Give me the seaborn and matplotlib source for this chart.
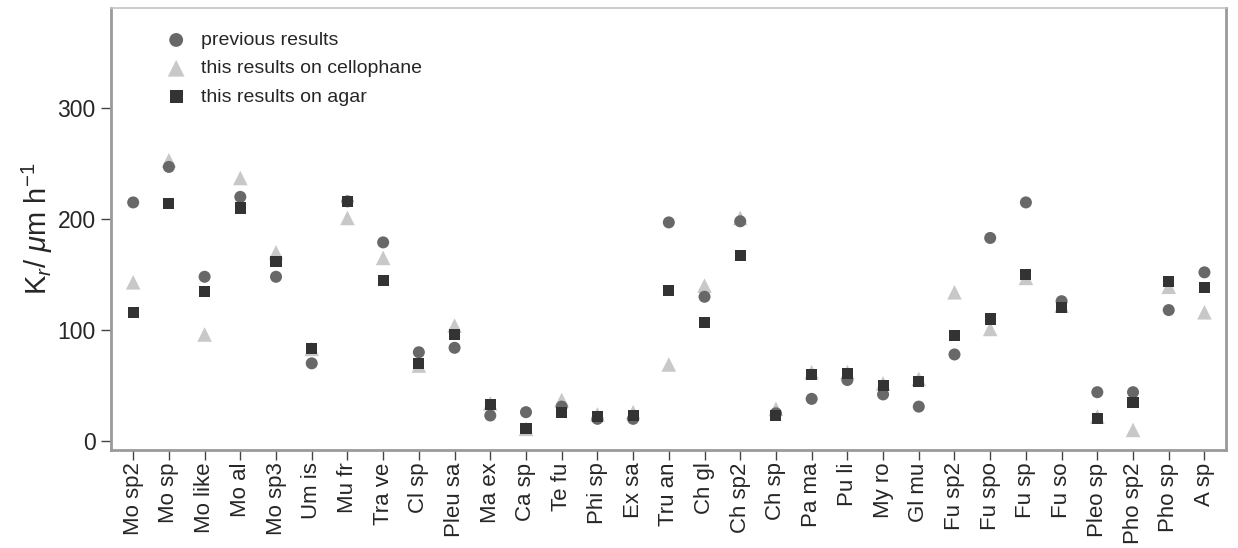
import matplotlib
matplotlib.use("Agg")
import matplotlib.pyplot as plt
import seaborn as sns
import pandas as pd

categories = ["Mo sp2", "Mo sp", "Mo like", "Mo al", "Mo sp3", "Um is", "Mu fr", "Tra ve",
              "Cl sp", "Pleu sa", "Ma ex", "Ca sp", "Te fu", "Phi sp", "Ex sa", "Tru an",
              "Ch gl", "Ch sp2", "Ch sp", "Pa ma", "Pu li", "My ro", "Gl mu", "Fu sp2",
              "Fu spo", "Fu sp", "Fu so", "Pleo sp", "Pho sp2", "Pho sp", "A sp"]

previous = [215, 247, 148, 220, 148, 70, 216, 179, 80, 84, 23, 26, 31, 20, 20, 197,
            130, 198, 25, 38, 55, 42, 31, 78, 183, 215, 126, 44, 44, 118, 152]
cellophane = [143, 253, 96, 237, 170, 83, 201, 165, 68, 104, 34, 11, 37, 24, 26, 69,
              140, 201, 29, 62, 62, 52, 56, 134, 101, 147, 122, 22, 10, 139, 116]
agar = [116, 214, 135, 210, 162, 83, 216, 145, 70, 96, 33, 11, 26, 22, 23, 136,
        107, 167, 23, 60, 61, 50, 54, 95, 110, 150, 120, 20, 35, 144, 138]

labels = ["previous results", "this results on cellophane", "this results on agar"]
yticks = [0, 100, 200, 300]

df = pd.DataFrame({"cat": categories, "prev": previous, "cello": cellophane, "agar": agar})

sns.set_theme(style="white")
plt.rcParams["font.family"] = ["Liberation Sans", "DejaVu Sans"]
plt.rcParams["mathtext.fontset"] = "custom"
plt.rcParams["mathtext.rm"] = "Liberation Sans"
plt.rcParams["mathtext.it"] = "Liberation Sans:italic"

fig = plt.figure(figsize=(12.38, 5.48), dpi=100)
ax = fig.add_axes([0.0897, 0.179, 0.9005, 0.806])

sns.scatterplot(data=df, x="cat", y="cello", ax=ax, marker="^", s=110, color="#c8c8c8",
                edgecolor="none", zorder=2, label=labels[1])
sns.scatterplot(data=df, x="cat", y="prev", ax=ax, marker="o", s=75, color="#686868",
                edgecolor="none", zorder=3, label=labels[0])
sns.scatterplot(data=df, x="cat", y="agar", ax=ax, marker="s", s=64, color="#333333",
                edgecolor="none", zorder=4, label=labels[2])

ax.set_xlim(-0.62, len(categories) - 1 + 0.6)
ax.set_ylim(-8, 390)
ax.set_yticks(yticks)
ax.set_yticklabels([str(v) for v in yticks], fontsize=16.5)
ax.tick_params(axis="x", labelrotation=90, labelsize=16, length=7, width=1, color="#444444",
               direction="out", bottom=True, pad=2)
ax.tick_params(axis="y", length=7, width=1, color="#444444", direction="out", left=True, pad=4)
ax.set_xlabel("")
ax.set_ylabel(r"K$_r$/ $\mu$m h$^{-1}$", fontsize=21, labelpad=2)

ax.spines["top"].set_color("#c4c4c4")
ax.spines["top"].set_linewidth(1.2)
for side in ["left", "bottom", "right"]:
    ax.spines[side].set_color("#9a9a9a")
    ax.spines[side].set_linewidth(2)

h, l = ax.get_legend_handles_labels()
order = [l.index(x) for x in labels]
leg = ax.legend([h[i] for i in order], [l[i] for i in order], loc="upper left",
                bbox_to_anchor=(0.034, 0.965), frameon=False, fontsize=14,
                handletextpad=0.3, labelspacing=0.55, borderaxespad=0, markerscale=1.15)

fig.savefig("out.png", dpi=100)
